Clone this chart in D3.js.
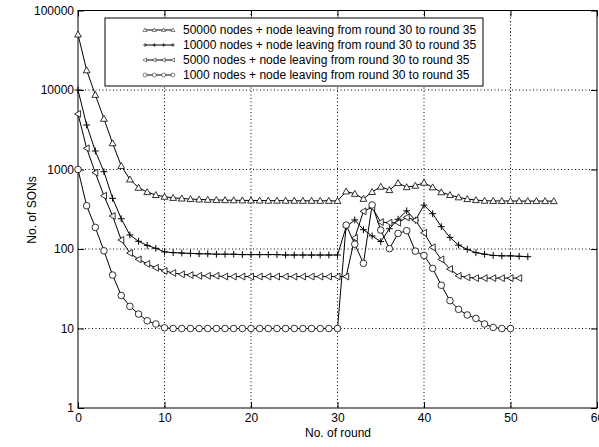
<!DOCTYPE html>
<html><head><meta charset="utf-8">
<script src="https://cdn.jsdelivr.net/npm/d3@7"></script>
<style>body{margin:0;background:#fff}svg{display:block}text{font-family:"Liberation Sans",Arial,sans-serif;fill:#000}</style>
</head><body><svg id="c" width="599" height="447"></svg>
<script>
const xTicks = [0,10,20,30,40,50,60];
const yTicks = [1,10,100,1000,10000,100000];
const seriesNames = [
  "50000 nodes + node leaving from round 30 to round 35",
  "10000 nodes + node leaving from round 30 to round 35",
  "5000 nodes + node leaving from round 30 to round 35",
  "1000 nodes + node leaving from round 30 to round 35"
];
const markers = ["triangle","plus","left","circle"];
const s50000 = [50000,17700,8700,4350,2140,1110,750,590,520,478,455,440,432,425,420,417,414,412,410,409,408,407,406,406,405,405,404,404,404,404,403,
  530,495,428,522,608,552,676,600,625,682,597,517,478,447,425,413,405,403,402,402,401,401,401,401,400];
const s10000 = [10000,3630,1710,938,434,240,150,125,111,102,92,90,89,88,87,87,86,86,86,85,85,85,85,85,84,84,84,84,84,84,84,
  190,232,175,146,124,180,237,302,230,356,278,191,140,112,99,90,86,83,82,82,81,80];
const s5000 = [5000,1850,912,468,260,130,89,74,65,58,53,50,48,47,46,46,46,45,45,45,45,45,45,45,45,45,45,45,45,45,45,
  45,138,298,334,218,214,214,250,230,160,105,74,56,46,44,43,43,43,43,43,43];
const s1000 = [1000,350,187,95,47,26,19,15.2,12.5,11.4,10.2,10,10,10,10,10,10,10,10,10,10,10,10,10,10,10,10,10,10,10,10,
  200,115,66,358,173,101,157,170,94,83,57,35,22.4,17.4,14.8,13.4,11.4,10.3,10,10];
const allSeries = [s50000,s10000,s5000,s1000];

const svg = d3.select("#c");
const L=78, R=597, T=10.5, B=408;
const x = d3.scaleLinear().domain([0,60]).range([L,R]);
const y = d3.scaleLog().domain([1,100000]).range([B,T]);
const FS = 12;

// grid
const g = svg.append("g");
xTicks.filter(d=>d>0&&d<60).forEach(d=>{
  g.append("line").attr("x1",x(d)).attr("x2",x(d)).attr("y1",T).attr("y2",B)
   .attr("stroke","#000").attr("stroke-width",1).attr("stroke-dasharray","1,2.5");
});
yTicks.filter(d=>d>1&&d<100000).forEach(d=>{
  g.append("line").attr("x1",L).attr("x2",R).attr("y1",y(d)).attr("y2",y(d))
   .attr("stroke","#000").attr("stroke-width",1).attr("stroke-dasharray","1,2.5");
});

// axes
const ax = svg.append("g").attr("transform",`translate(0,${B})`)
  .call(d3.axisBottom(x).tickValues(xTicks).tickSize(-6).tickPadding(5).tickFormat(d3.format("d")));
const axt = svg.append("g").attr("transform",`translate(0,${T})`)
  .call(d3.axisTop(x).tickValues(xTicks).tickSize(-6).tickFormat(""));
const ay = svg.append("g").attr("transform",`translate(${L},0)`)
  .call(d3.axisLeft(y).tickValues(yTicks).tickSize(-6).tickPadding(4).tickFormat(d3.format("d")));
const ayr = svg.append("g").attr("transform",`translate(${R},0)`)
  .call(d3.axisRight(y).tickValues(yTicks).tickSize(-6).tickFormat(""));
[ax,axt,ay,ayr].forEach(a=>{
  a.selectAll(".domain").remove();
  a.selectAll("line").attr("stroke","#000");
  a.selectAll("text").attr("font-size",FS).attr("font-family","Liberation Sans, Arial, sans-serif");
});
svg.append("rect").attr("x",L).attr("y",T).attr("width",R-L).attr("height",B-T)
  .attr("fill","none").attr("stroke","#000").attr("stroke-width",1);

// markers
function drawMarker(sel, type, cx, cy){
  const s=3.4;
  if(type==="triangle"){
    sel.append("path").attr("d",`M${cx},${cy-s}L${cx+s},${cy+s*0.75}L${cx-s},${cy+s*0.75}Z`)
      .attr("fill","#fff").attr("stroke","#000").attr("stroke-width",0.8);
  } else if(type==="left"){
    sel.append("path").attr("d",`M${cx-s},${cy}L${cx+s*0.75},${cy-s}L${cx+s*0.75},${cy+s}Z`)
      .attr("fill","#fff").attr("stroke","#000").attr("stroke-width",0.8);
  } else if(type==="plus"){
    sel.append("path").attr("d",`M${cx-s},${cy}H${cx+s}M${cx},${cy-s}V${cy+s}`)
      .attr("fill","none").attr("stroke","#000").attr("stroke-width",1);
  } else {
    sel.append("circle").attr("cx",cx).attr("cy",cy).attr("r",3.3)
      .attr("fill","#fff").attr("stroke","#000").attr("stroke-width",0.8);
  }
}

const line = d3.line().x((d,i)=>x(i)).y(d=>y(d));
const plot = svg.append("g");
allSeries.forEach((s,k)=>{
  plot.append("path").attr("d",line(s)).attr("fill","none").attr("stroke","#000").attr("stroke-width",1);
});
allSeries.forEach((s,k)=>{
  const gm = plot.append("g");
  s.forEach((v,i)=>drawMarker(gm, markers[k], x(i), y(v)));
});

// legend
const lg = svg.append("g");
const LX=105, LY=18, LW=378, LH=68;
lg.append("rect").attr("x",LX).attr("y",LY).attr("width",LW).attr("height",LH)
  .attr("fill","#fff").attr("stroke","#000").attr("stroke-width",1);
seriesNames.forEach((n,k)=>{
  const ry = 30 + k*15;
  lg.append("line").attr("x1",145).attr("x2",173).attr("y1",ry).attr("y2",ry).attr("stroke","#000").attr("stroke-width",1);
  [0,1,2,3].forEach(j=>{
    const mx = 145 + j*9.33;
    const mg = lg.append("g").attr("transform",`translate(${mx},${ry}) scale(0.6) translate(${-mx},${-ry})`);
    drawMarker(mg, markers[k], mx, ry);
  });
  lg.append("text").attr("x",183).attr("y",ry+4).attr("font-size",FS).text(n);
});

// axis titles
svg.append("text").attr("x",338).attr("y",437).attr("text-anchor","middle").attr("font-size",FS).text("No. of round");
svg.append("text").attr("transform","translate(36,210) rotate(-90)").attr("text-anchor","middle").attr("font-size",FS).text("No. of SONs");
</script></body></html>
